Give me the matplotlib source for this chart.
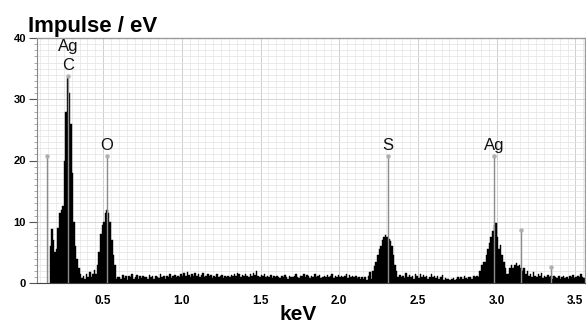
import numpy as np
import matplotlib
matplotlib.use("Agg")
import matplotlib.pyplot as plt
from matplotlib.ticker import MultipleLocator

plt.rcParams['font.family'] = ['Liberation Sans', 'DejaVu Sans']

# ---- data -------------------------------------------------------------
energy_start = 0.16   # keV, first bin
bin_width = 0.01      # keV

counts = [
    # 0.16 - 0.59  (C / Ag-M and O region)
    6.0, 8.8, 7.0, 5.0, 5.5, 9.0, 11.5, 12.0, 12.5, 20.0,
    28.0, 33.5, 31.0, 26.0, 18.0, 10.0, 6.0, 4.0, 2.5, 1.5,
    0.8, 1.2, 0.7, 1.5, 1.0, 1.8, 0.9, 1.4, 2.2, 1.5,
    3.0, 5.0, 8.0, 9.5, 10.0, 11.5, 12.0, 11.5, 10.0, 7.0,
    4.5, 3.0, 0.6, 0.9,
    # 0.60 - 2.19 background
    1.0, 0.6, 1.3, 0.8, 1.1, 0.5, 1.2, 0.9, 1.4, 0.7,
    1.0, 1.3, 0.6, 1.1, 0.8, 1.2, 0.9, 1.0, 0.6, 1.3,
    0.9, 1.1, 0.7, 1.2, 1.0, 0.8, 1.4, 0.9, 1.1, 0.7,
    1.2, 1.0, 1.5, 0.8, 1.1, 1.3, 0.9, 1.2, 1.0, 1.4,
    1.1, 1.6, 1.2, 1.8, 1.3, 1.0, 1.5, 1.2, 1.7, 1.1,
    1.4, 1.0, 1.3, 1.6, 0.9, 1.2, 1.5, 1.1, 1.3, 0.8,
    1.2, 1.0, 1.4, 0.9, 1.1, 1.3, 0.8, 1.2, 1.0, 1.1,
    0.9, 1.3, 1.1, 1.5, 1.2, 1.7, 1.4, 1.0, 1.3, 1.1,
    1.5, 1.2, 1.0, 1.4, 1.1, 1.6, 1.3, 2.0, 1.2, 1.0,
    1.3, 1.1, 1.4, 0.9, 1.2, 1.0, 1.3, 0.8, 1.1, 0.9,
    1.2, 1.0, 0.8, 1.1, 0.9, 1.3, 1.0, 0.7, 1.2, 1.0,
    0.9, 1.1, 1.4, 1.0, 0.8, 1.2, 1.1, 1.5, 0.9, 1.3,
    1.1, 0.8, 1.2, 1.0, 1.4, 0.9, 1.1, 1.3, 0.8, 1.0,
    1.2, 0.9, 1.3, 1.0, 1.1, 1.4, 0.8, 1.2, 1.0, 1.3,
    0.9, 1.2, 1.0, 1.1, 1.4, 0.8, 1.3, 1.0, 1.2, 0.9,
    1.1, 0.8, 1.0, 0.6, 0.9, 0.7, 1.0, 0.5, 1.2, 1.8,
    # 2.20 - 2.38  S peak
    0.6, 2.0, 2.8, 3.5, 4.5, 5.5, 6.0, 7.0, 7.5, 7.8,
    7.5, 7.2, 6.8, 6.0, 4.5, 3.0, 2.0, 1.0, 1.3,
    # 2.39 - 2.87 background
    0.9, 1.2, 0.8, 1.6, 1.0, 1.3, 0.9, 1.1, 0.7, 1.4,
    1.2, 0.8, 1.5, 1.0, 1.3, 0.9, 1.2, 0.7, 1.0, 1.4,
    0.9, 1.1, 0.8, 1.2, 0.6, 1.0, 1.3, 0.5, 0.8, 0.6,
    0.7, 0.5, 0.6, 0.8, 0.5, 0.7, 1.0, 0.6, 0.9, 0.7,
    1.1, 0.8, 0.6, 0.9, 1.0, 0.7, 1.2, 0.9, 1.1,
    # 2.88 - 3.20  Ag-L region
    1.0, 2.0, 3.0, 3.5, 3.5, 4.5, 5.5, 6.5, 7.5, 8.5,
    9.5, 9.8, 7.5, 5.5, 6.2, 4.5, 3.5, 2.5, 1.5, 1.5,
    2.5, 3.0, 2.5, 3.0, 3.2, 2.8, 3.0, 2.5, 2.0, 2.5,
    1.5, 2.0, 1.2,
    # 3.21 - 3.55 background
    1.5, 1.0, 1.8, 1.2, 0.9, 1.4, 1.1, 1.6, 0.8, 1.2,
    1.0, 1.3, 0.9, 1.1, 0.7, 1.2, 1.0, 0.8, 1.1, 0.6,
    0.9, 1.2, 0.8, 1.0, 0.7, 1.1, 0.9, 1.3, 0.8, 1.0,
    1.2, 0.9, 1.5, 1.0, 0.8,
]

# element marker lines
marker_energy = [0.145, 0.277, 0.525, 2.307, 2.984, 3.155, 3.345]
marker_height = [20.7, 33.8, 20.7, 20.7, 20.7, 8.7, 2.6]
marker_label = ["", "Ag\nC", "O", "S", "Ag", "", ""]

x_ticks = [0.5, 1.0, 1.5, 2.0, 2.5, 3.0, 3.5]
x_tick_labels = ["0.5", "1.0", "1.5", "2.0", "2.5", "3.0", "3.5"]
y_ticks = [0, 10, 20, 30, 40]

# ---- figure -----------------------------------------------------------
fig = plt.figure(figsize=(5.86, 3.24), dpi=100)
ax = fig.add_axes([37 / 586, 1 - 283 / 324, 1 - 37 / 586 - 0.002, (283 - 38) / 324])

energies = energy_start + bin_width * np.arange(len(counts))
ax.bar(energies, counts, width=bin_width, align='edge', color='black',
       edgecolor='black', linewidth=0.3, zorder=2)

for e, h, lab in zip(marker_energy, marker_height, marker_label):
    ax.vlines(e, 0, h, color='#8c8c8c', linewidth=1.0, zorder=3)
    ax.plot([e], [h], marker='o', ms=2.2, color='#b0b0b0', zorder=4)
    if lab:
        ax.annotate(lab, (e, h), xytext=(0, 2), textcoords='offset points',
                    ha='center', va='bottom', fontsize=12, linespacing=1.35,
                    color='#111111')

ax.set_xlim(0.08, 3.56)
ax.set_ylim(0, 40)

ax.set_xticks(x_ticks)
ax.set_xticklabels(x_tick_labels, fontsize=8.5, fontweight='bold')
ax.xaxis.set_minor_locator(MultipleLocator(0.05))
ax.set_yticks(y_ticks)
ax.set_yticklabels([str(v) for v in y_ticks], fontsize=8, fontweight='bold')
ax.yaxis.set_minor_locator(MultipleLocator(1))

ax.tick_params(axis='x', which='both', length=0, pad=9)
ax.tick_params(axis='y', which='major', length=6, width=0.8, color='#555555', pad=2)
ax.tick_params(axis='y', which='minor', length=2.5, width=0.5, color='#888888')

ax.grid(True, which='major', axis='x', color='#cfcfcf', linewidth=0.7, zorder=0)
ax.grid(True, which='minor', axis='x', color='#e6e6e6', linewidth=0.5, zorder=0)
ax.grid(True, which='minor', axis='y', color='#e2e2e2', linewidth=0.5, zorder=0)
ax.grid(True, which='major', axis='y', color='#d0d0d0', linewidth=0.6, zorder=0)
ax.set_axisbelow(True)

for side in ['top', 'right']:
    ax.spines[side].set_color('#9a9a9a')
    ax.spines[side].set_linewidth(1.0)
ax.spines['left'].set_color('#888888')
ax.spines['left'].set_linewidth(0.8)
ax.spines['bottom'].set_color('#444444')
ax.spines['bottom'].set_linewidth(0.8)

fig.text(28 / 586, 1 - 32 / 324, "Impulse / eV", fontsize=16, fontweight='bold',
         ha='left', va='baseline')
fig.text(298 / 586, 1 - 320 / 324, "keV", fontsize=15, fontweight='bold',
         ha='center', va='baseline')

fig.savefig("out.png", dpi=100)
